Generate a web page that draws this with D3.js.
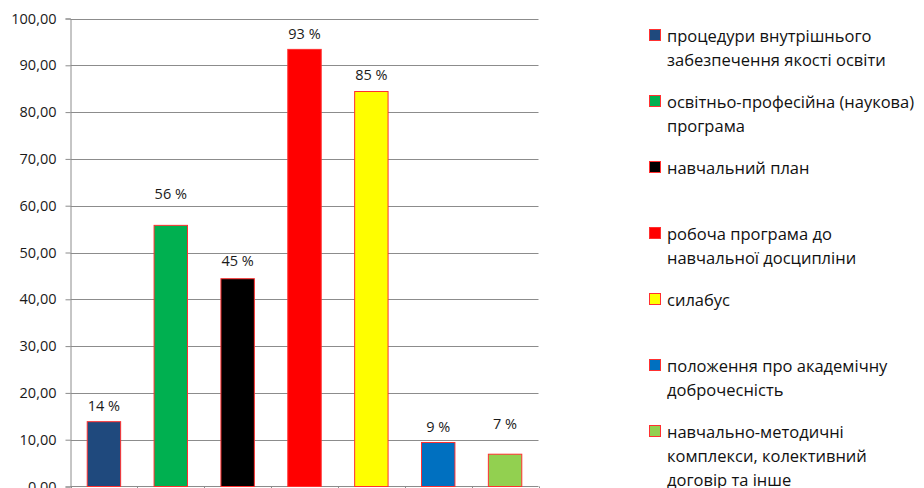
<!DOCTYPE html>
<html><head><meta charset="utf-8">
<script src="https://cdn.jsdelivr.net/npm/d3@7"></script>
<style>
html,body{margin:0;padding:0;background:#fff;}
svg{display:block;font-family:"Open Sans","Noto Sans",sans-serif;}
</style></head>
<body>
<svg id="chart" width="924" height="488"></svg>
<script>
const categories = [
  "процедури внутрішнього забезпечення якості освіти",
  "освітньо-професійна (наукова) програма",
  "навчальний план",
  "робоча програма до навчальної досципліни",
  "силабус",
  "положення про академічну доброчесність",
  "навчально-методичні комплекси, колективний договір та інше"
];
const values = [13.85, 55.8, 44.4, 93.4, 84.4, 9.4, 6.9];
const valueLabels = ["14 %", "56 %", "45 %", "93 %", "85 %", "9 %", "7 %"];
const colors = ["#1F497D", "#00B050", "#000000", "#FF0000", "#FFFF00", "#0070C0", "#92D050"];
const legendLines = [
  ["процедури внутрішнього", "забезпечення якості освіти"],
  ["освітньо-професійна (наукова)", "програма"],
  ["навчальний план"],
  ["робоча програма до", "навчальної досципліни"],
  ["силабус"],
  ["положення про академічну", "доброчесність"],
  ["навчально-методичні", "комплекси, колективний", "договір та інше"]
];
const yTicks = [0, 10, 20, 30, 40, 50, 60, 70, 80, 90, 100];

// layout (not data): manual lift of each data label above its bar, in px
const labelLift = [16, 32, 18, 16, 17, 16.5, 31];

const svg = d3.select("#chart");
const mLeft = 70.5, mRight = 538.5, mTop = 18.5, mBottom = 486.5;

const x = d3.scaleBand().domain(d3.range(categories.length)).range([mLeft, mRight]).paddingInner(0.5).paddingOuter(0.25);
const y = d3.scaleLinear().domain([0, 100]).range([mBottom, mTop]);
const fmt = v => d3.format(".2f")(v).replace(".", ",");

// gridlines
svg.append("g").selectAll("line").data(yTicks.filter(t => t > 0)).join("line")
  .attr("x1", mLeft).attr("x2", mRight)
  .attr("y1", d => Math.round(y(d)) + 0.5).attr("y2", d => Math.round(y(d)) + 0.5)
  .attr("stroke", "#8c8c8c").attr("stroke-width", 1);

// y axis
const yAxis = svg.append("g").attr("transform", `translate(${mLeft},0)`)
  .call(d3.axisLeft(y).tickValues(yTicks).tickSize(5).tickPadding(9).tickFormat(fmt));
yAxis.selectAll("path,line").attr("stroke", "#8c8c8c");
yAxis.selectAll("text").attr("font-size", 14.5).attr("fill", "#1a1a1a")
  .attr("font-family", "'Open Sans', sans-serif");

// x axis ticks at band boundaries
const bounds = d3.range(categories.length + 1).map(i => mLeft + i * (mRight - mLeft) / categories.length);
svg.append("line").attr("x1", mLeft).attr("x2", mRight).attr("y1", mBottom).attr("y2", mBottom).attr("stroke", "#8c8c8c");
svg.append("g").selectAll("line").data(bounds).join("line")
  .attr("x1", d => Math.round(d) + 0.5).attr("x2", d => Math.round(d) + 0.5)
  .attr("y1", mBottom).attr("y2", mBottom + 5).attr("stroke", "#8c8c8c");

// bars
svg.append("g").selectAll("rect").data(values).join("rect")
  .attr("x", (d, i) => x(i)).attr("width", x.bandwidth())
  .attr("y", d => y(d)).attr("height", d => y(0) - y(d))
  .attr("fill", (d, i) => colors[i])
  .attr("stroke", "#FF3030").attr("stroke-width", 1);

// data labels
svg.append("g").selectAll("text").data(values).join("text")
  .attr("x", (d, i) => x(i) + x.bandwidth() / 2)
  .attr("y", (d, i) => y(d) - labelLift[i])
  .attr("text-anchor", "middle").attr("dominant-baseline", "central")
  .attr("font-size", 14.5).attr("fill", "#1a1a1a")
  .text((d, i) => valueLabels[i]);

// legend
const lg = svg.append("g");
const legendX = 649.5, legendY0 = 35, legendStep = 66, lineH = 24;
legendLines.forEach((lines, i) => {
  const cy = legendY0 + i * legendStep;
  lg.append("rect").attr("x", legendX).attr("y", cy - 5.5).attr("width", 11).attr("height", 11)
    .attr("fill", colors[i]).attr("stroke", "#FF3030").attr("stroke-width", 1);
  lines.forEach((t, j) => {
    lg.append("text").attr("x", 667).attr("y", cy + j * lineH)
      .attr("dominant-baseline", "central").attr("font-size", 16.5).attr("fill", "#111")
      .text(t);
  });
});
</script>
</body></html>
